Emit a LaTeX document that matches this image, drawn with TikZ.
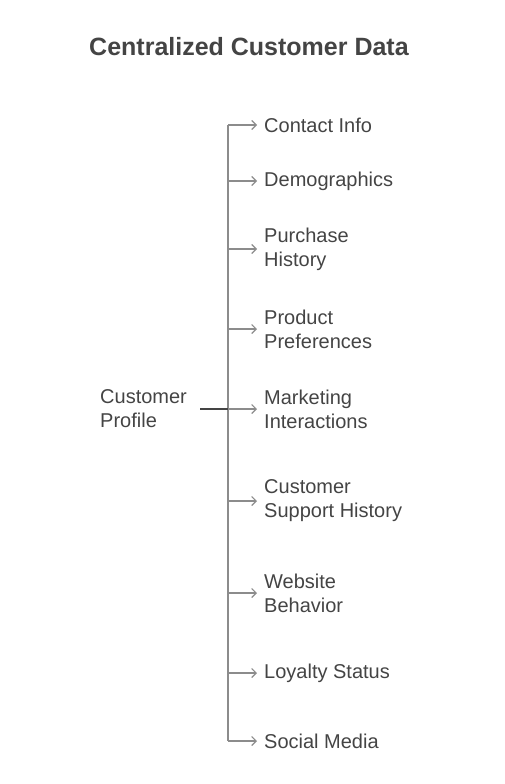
\documentclass[tikz,border=0pt]{standalone}
\usepackage{fontspec}
\setmainfont{Liberation Sans}
\usetikzlibrary{arrows.meta}
\definecolor{textgray}{HTML}{444444}
\definecolor{linegray}{HTML}{8C8C8C}
\begin{document}
\begin{tikzpicture}[x=1pt,y=-1pt,>={Straight Barb[length=4.5pt,width=9pt]}]
    \useasboundingbox (0,0) rectangle (504,784);
    \tikzset{leaf/.style={anchor=west,align=left,inner sep=0pt,text=textgray,font=\fontsize{20}{24}\selectfont},
      branch/.style={->,draw=linegray,line width=1.1pt}}
    \node[text=textgray,font=\fontsize{25}{28}\selectfont\bfseries] (title) at (249,47) {Centralized Customer Data};
    \node[leaf] (profile) at (100,409) {Customer\\Profile};
    \node[leaf] (contact) at (264,125) {Contact Info};
    \node[leaf] (demo) at (264,181) {Demographics};
    \node[leaf] (purchase) at (264,249) {Purchase\\History};
    \node[leaf] (product) at (264,329) {Product\\Preferences};
    \node[leaf] (marketing) at (264,409) {Marketing\\Interactions};
    \node[leaf] (support) at (264,501) {Customer\\Support History};
    \node[leaf] (website) at (264,593) {Website\\Behavior};
    \node[leaf] (loyalty) at (264,673) {Loyalty Status};
    \node[leaf] (social) at (264,741) {Social Media};
    \coordinate (trunk) at (228,0);
    \draw[draw=linegray,line width=1.1pt] (trunk |- contact) -- (trunk |- social);
    \draw[draw=textgray,line width=1.4pt] (200,0 |- profile) -- (trunk |- profile);
    \draw[branch] (trunk |- contact) -- ([xshift=-7]contact.west);
    \draw[branch] (trunk |- demo) -- ([xshift=-7]demo.west);
    \draw[branch] (trunk |- purchase) -- ([xshift=-7]purchase.west);
    \draw[branch] (trunk |- product) -- ([xshift=-7]product.west);
    \draw[branch] (trunk |- marketing) -- ([xshift=-7]marketing.west);
    \draw[branch] (trunk |- support) -- ([xshift=-7]support.west);
    \draw[branch] (trunk |- website) -- ([xshift=-7]website.west);
    \draw[branch] (trunk |- loyalty) -- ([xshift=-7]loyalty.west);
    \draw[branch] (trunk |- social) -- ([xshift=-7]social.west);
  \end{tikzpicture}
\end{document}
